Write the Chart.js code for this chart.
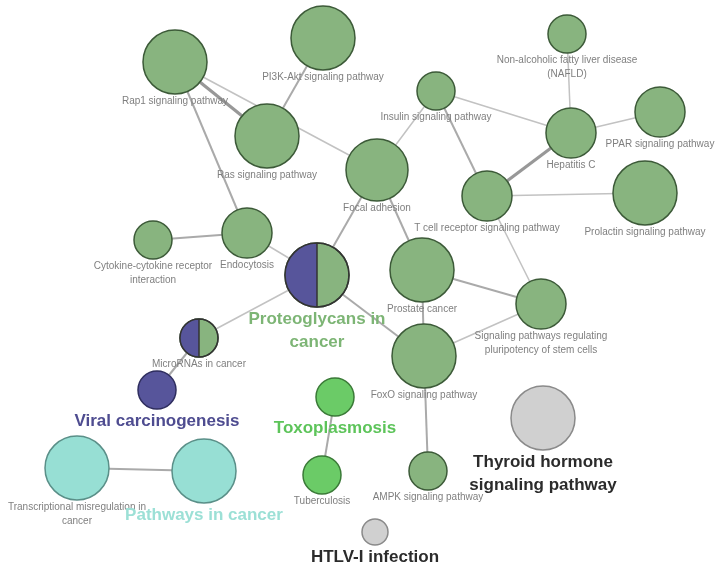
<!DOCTYPE html>
<html>
<head>
<meta charset="utf-8">
<script src="https://cdn.jsdelivr.net/npm/chart.js@4"></script>
<style>
  html, body { margin: 0; padding: 0; background: #fff; }
  canvas { display: block; }
</style>
</head>
<body>
<canvas id="myChart" width="719" height="570"></canvas>
<script>
// network layout (coordinates in the 719 x 570 frame), node size and cluster membership
const nodeNames = [
  'Rap1 signaling pathway', 'PI3K-Akt signaling pathway', 'Ras signaling pathway', 'Focal adhesion',
  'Endocytosis', 'Cytokine-cytokine receptor\ninteraction', 'Proteoglycans in cancer', 'MicroRNAs in cancer',
  'Viral carcinogenesis', 'Transcriptional misregulation in\ncancer', 'Pathways in cancer', 'Toxoplasmosis',
  'Tuberculosis', 'HTLV-I infection', 'Thyroid hormone signaling pathway', 'AMPK signaling pathway',
  'FoxO signaling pathway', 'Signaling pathways regulating\npluripotency of stem cells', 'Prostate cancer',
  'T cell receptor signaling pathway', 'Insulin signaling pathway', 'Hepatitis C',
  'Non-alcoholic fatty liver disease\n(NAFLD)', 'PPAR signaling pathway', 'Prolactin signaling pathway'
]
const nodeX = [175, 323, 267, 377, 247, 153, 317, 199, 157, 77, 204, 335, 322, 375, 543, 428, 424, 541, 422, 487, 436, 571, 567, 660, 645]
const nodeY = [62, 38, 136, 170, 233, 240, 275, 338, 390, 468, 471, 397, 475, 532, 418, 471, 356, 304, 270, 196, 91, 133, 34, 112, 193]
const nodeSize = [32, 32, 32, 31, 25, 19, 32, 19, 19, 32, 32, 19, 19, 13, 32, 19, 32, 25, 32, 25, 19, 25, 19, 25, 32]
// first cluster = main colour, second cluster (if any) = left half
const nodeClusters = [
  [0], [0], [0], [0], [0], [0], [0, 1], [0, 1], [1], [3], [3], [2], [2], [5], [4], [0],
  [0], [0], [0], [0], [0], [0], [0], [0], [0]
]

const clusterNames = ['Proteoglycans in\ncancer', 'Viral carcinogenesis', 'Toxoplasmosis', 'Pathways in cancer', 'Thyroid hormone\nsignaling pathway', 'HTLV-I infection']
const clusterNode = [6, 8, 11, 10, 14, 13]

const edgeFrom = [0, 0, 0, 1, 4, 4, 6, 6, 6, 7, 3, 3, 20, 20, 21, 21, 21, 19, 19, 18, 18, 16, 16, 11, 9]
const edgeTo = [2, 4, 3, 2, 5, 6, 3, 7, 16, 8, 20, 18, 21, 19, 22, 23, 19, 24, 17, 17, 16, 17, 15, 12, 10]
const edgeWeight = [3, 2, 1, 2, 2, 1, 2, 1, 2, 2, 1, 2, 1, 2, 1, 1, 3, 1, 1, 2, 2, 1, 2, 2, 2]

// styles
const clusterFill = ['#88b47f', '#57559b', '#6bcb67', '#97dfd4', '#d0d0d0', '#d0d0d0']
const clusterBorder = ['#3c5a38', '#2e2d5e', '#3a7a37', '#5a8f88', '#8a8a8a', '#8a8a8a']
const clusterText = ['#7db575', '#4e4c90', '#5dc45a', '#9ce0d6', '#2b2b2b', '#2b2b2b']
const edgeWidth = {1: 1.5, 2: 2, 3: 3.2}
const edgeColor = {1: '#c2c2c2', 2: '#aaaaaa', 3: '#989898'}
const FONT = '"Liberation Sans", Arial, sans-serif'

let nodes = nodeX.map((x, i) => ({x: x, y: nodeY[i], r: nodeSize[i]}))

let datasets = [{
  type: 'bubble',
  data: nodes,
  backgroundColor: nodeClusters.map(c => clusterFill[c[0]]),
  borderColor: nodeClusters.map(c => clusterBorder[c[0]]),
  borderWidth: 1.5,
  hoverBorderWidth: 1.5,
  clip: false,
  order: 0
}]

for (let e = 0; e < edgeFrom.length; ++e) {
  let a = edgeFrom[e], b = edgeTo[e]
  datasets.push({
    type: 'line',
    data: [{x: nodeX[a], y: nodeY[a]}, {x: nodeX[b], y: nodeY[b]}],
    borderColor: edgeColor[edgeWeight[e]],
    borderWidth: edgeWidth[edgeWeight[e]],
    pointRadius: 0,
    fill: false,
    clip: false,
    order: 1
  })
}

const nodeDecor = {
  id: 'nodeDecor',
  afterDatasetsDraw(chart) {
    const ctx = chart.ctx
    const pts = chart.getDatasetMeta(0).data
    ctx.save()
    // split (two-cluster) nodes: left half in second cluster colour
    pts.forEach((pt, i) => {
      if (nodeClusters[i].length < 2) return
      const r = pt.options.radius
      const c2 = nodeClusters[i][1]
      ctx.beginPath()
      ctx.arc(pt.x, pt.y, r, Math.PI / 2, Math.PI * 1.5)
      ctx.closePath()
      ctx.fillStyle = clusterFill[c2]
      ctx.fill()
      ctx.beginPath()
      ctx.arc(pt.x, pt.y, r, 0, Math.PI * 2)
      ctx.moveTo(pt.x, pt.y - r)
      ctx.lineTo(pt.x, pt.y + r)
      ctx.strokeStyle = '#333'
      ctx.lineWidth = 1.5
      ctx.stroke()
    })
    // labels
    ctx.textAlign = 'center'
    ctx.textBaseline = 'middle'
    pts.forEach((pt, i) => {
      const r = pt.options.radius
      const k = clusterNode.indexOf(i)
      let lines, lh, gap
      if (k >= 0) {
        lines = clusterNames[k].split('\n')
        ctx.font = 'bold 17px ' + FONT
        ctx.fillStyle = clusterText[k]
        lh = 23.5; gap = 12
      } else {
        lines = nodeNames[i].split('\n')
        ctx.font = '10px ' + FONT
        ctx.fillStyle = '#7f7f7f'
        lh = 14; gap = 7
      }
      lines.forEach((t, j) => ctx.fillText(t, pt.x, pt.y + r + gap + j * lh))
    })
    ctx.restore()
  }
}

const config = {
  type: 'bubble',
  data: {datasets: datasets},
  options: {
    responsive: false,
    devicePixelRatio: 1,
    animation: false,
    events: [],
    layout: {padding: 0, autoPadding: false},
    scales: {
      x: {type: 'linear', min: 0, max: 719, display: false},
      y: {type: 'linear', min: 0, max: 570, reverse: true, display: false}
    },
    plugins: {legend: {display: false}, tooltip: {enabled: false}}
  },
  plugins: [nodeDecor]
}

new Chart(document.getElementById('myChart'), config)
</script>
</body>
</html>
